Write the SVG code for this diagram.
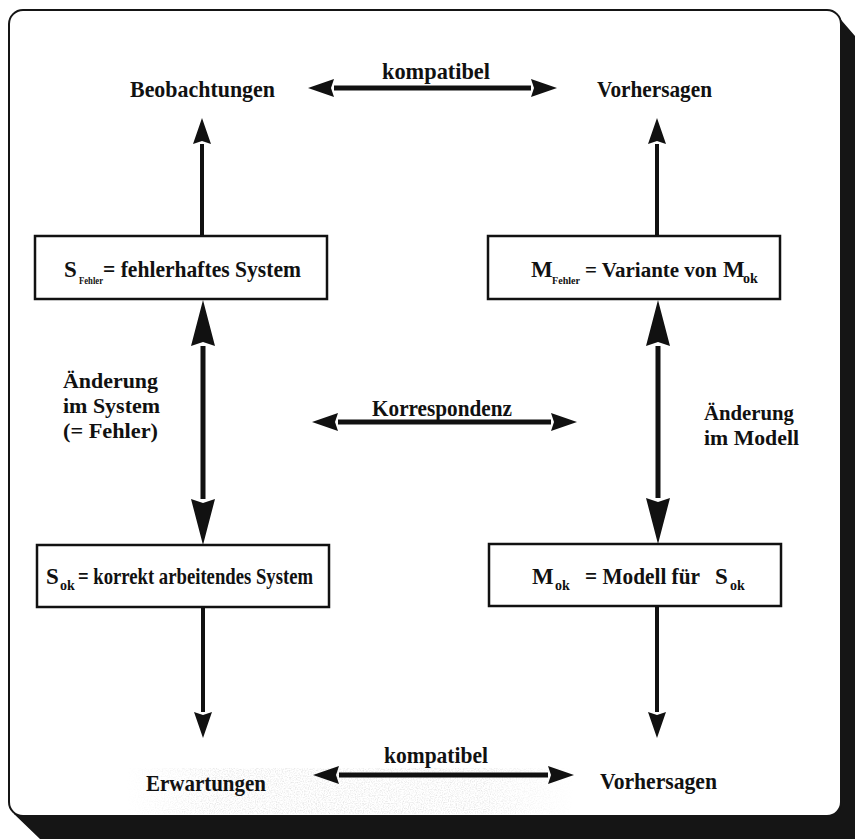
<svg xmlns="http://www.w3.org/2000/svg" width="855" height="839" viewBox="0 0 855 839">
  <style>
    .lbl { font-family: "Liberation Serif", "Times New Roman", serif; font-weight: bold; font-size: 23px; fill: #111; }
    .side { font-family: "Liberation Serif", "Times New Roman", serif; font-weight: bold; font-size: 21px; fill: #111; }
    .sub { font-family: "Liberation Serif", "Times New Roman", serif; font-weight: bold; font-size: 10px; fill: #111; }
    .subok { font-family: "Liberation Serif", "Times New Roman", serif; font-weight: bold; font-size: 14px; fill: #111; }
    .box { fill: #fff; stroke: #111; stroke-width: 2.5; }
    .arr { stroke: #111; stroke-width: 5; fill: none; marker-start: url(#head); marker-end: url(#head); }
    .one { stroke: #111; stroke-width: 4; fill: none; marker-end: url(#head); }
    .big { stroke: #111; stroke-width: 5; fill: none; marker-start: url(#bighead); marker-end: url(#bighead); }
  </style>
  <defs>
    <marker id="head" markerUnits="userSpaceOnUse" markerWidth="26" markerHeight="18" refX="0" refY="9" orient="auto-start-reverse" overflow="visible">
      <path d="M0,0 L26,9 L0,18 L3,9 Z" fill="#111"/>
    </marker>
    <marker id="bighead" markerUnits="userSpaceOnUse" markerWidth="46" markerHeight="24" refX="0" refY="12" orient="auto-start-reverse" overflow="visible">
      <path d="M0,0 L46,12 L0,24 L4,12 Z" fill="#111"/>
    </marker>
    <!-- faint paper speckle near the lower edge -->
    <filter id="grain" x="0" y="0" width="100%" height="100%">
      <feTurbulence type="fractalNoise" baseFrequency="0.85" numOctaves="2" seed="7" result="n"/>
      <feColorMatrix in="n" type="matrix" values="0 0 0 0 0.6  0 0 0 0 0.6  0 0 0 0 0.6  0 0 0 -2.4 1.4"/>
      <feComposite in2="SourceGraphic" operator="in"/>
    </filter>
    <linearGradient id="fade" x1="0" y1="0" x2="1" y2="0">
      <stop offset="0" stop-color="#fff" stop-opacity="0"/>
      <stop offset="0.2" stop-color="#fff" stop-opacity="1"/>
      <stop offset="0.8" stop-color="#fff" stop-opacity="1"/>
      <stop offset="1" stop-color="#fff" stop-opacity="0"/>
    </linearGradient>
  </defs>

  <!-- page with drop shadow -->
  <polygon points="836,14 855,36 855,839 40,839 14,814 836,814" fill="#151515"/>
  <rect x="9" y="10" width="832" height="806" rx="14" fill="#fff" stroke="#151515" stroke-width="2"/>
  <rect x="125" y="768" width="450" height="46" fill="url(#fade)" filter="url(#grain)" opacity="0.45"/>

  <!-- connectors -->
  <g id="connectors">
    <line class="arr" x1="334" y1="88" x2="531" y2="88"/>
    <line class="one" x1="202" y1="236" x2="202" y2="144"/>
    <line class="one" x1="657" y1="236" x2="657" y2="144"/>
    <line class="big" x1="203" y1="346" x2="203" y2="499"/>
    <line class="big" x1="658" y1="346" x2="658" y2="498"/>
    <line class="arr" x1="338" y1="422" x2="551" y2="422"/>
    <line class="one" x1="203" y1="607" x2="203" y2="712"/>
    <line class="one" x1="657" y1="606" x2="657" y2="712"/>
    <line class="arr" x1="339" y1="775" x2="548" y2="775"/>
    <text class="lbl" x="382" y="79" textLength="108" lengthAdjust="spacingAndGlyphs">kompatibel</text>
    <text class="lbl" x="372" y="416" textLength="140" lengthAdjust="spacingAndGlyphs">Korrespondenz</text>
    <text class="lbl" x="384" y="763" textLength="104" lengthAdjust="spacingAndGlyphs">kompatibel</text>
    <text class="side" x="63" y="388" textLength="95" lengthAdjust="spacingAndGlyphs">Änderung</text>
    <text class="side" x="63" y="413" textLength="97" lengthAdjust="spacingAndGlyphs">im System</text>
    <text class="side" x="63" y="438" textLength="95" lengthAdjust="spacingAndGlyphs">(= Fehler)</text>
    <text class="side" x="704" y="420" textLength="90" lengthAdjust="spacingAndGlyphs">Änderung</text>
    <text class="side" x="704" y="445" textLength="95" lengthAdjust="spacingAndGlyphs">im Modell</text>
  </g>

  <g id="beobachtungen">
    <text class="lbl" x="130" y="97" textLength="145" lengthAdjust="spacingAndGlyphs">Beobachtungen</text>
  </g>
  <g id="vorhersagen-oben">
    <text class="lbl" x="597" y="97" textLength="115" lengthAdjust="spacingAndGlyphs">Vorhersagen</text>
  </g>

  <g id="s-fehler">
    <rect class="box" x="35" y="236" width="292" height="63"/>
    <text class="lbl" x="64" y="277">S</text>
    <text class="sub" x="79" y="284" textLength="24" lengthAdjust="spacingAndGlyphs">Fehler</text>
    <text class="lbl" x="103" y="277" textLength="198" lengthAdjust="spacingAndGlyphs">= fehlerhaftes System</text>
  </g>
  <g id="m-fehler">
    <rect class="box" x="488" y="236" width="292" height="63"/>
    <text class="lbl" x="531" y="277">M</text>
    <text class="sub" x="552" y="284" textLength="28" lengthAdjust="spacingAndGlyphs">Fehler</text>
    <text class="lbl" x="585" y="277" style="font-size:20px" textLength="132" lengthAdjust="spacingAndGlyphs">= Variante von</text>
    <text class="lbl" x="723" y="277">M</text>
    <text class="subok" x="743" y="283">ok</text>
  </g>
  <g id="s-ok">
    <rect class="box" x="37" y="545" width="292" height="62"/>
    <text class="lbl" x="46" y="584">S</text>
    <text class="subok" x="60" y="590">ok</text>
    <text class="lbl" x="78" y="584" textLength="235" lengthAdjust="spacingAndGlyphs">= korrekt arbeitendes System</text>
  </g>
  <g id="m-ok">
    <rect class="box" x="489" y="544" width="292" height="62"/>
    <text class="lbl" x="532" y="584">M</text>
    <text class="subok" x="555" y="590">ok</text>
    <text class="lbl" x="585" y="584" textLength="115" lengthAdjust="spacingAndGlyphs">= Modell für</text>
    <text class="lbl" x="715" y="584">S</text>
    <text class="subok" x="730" y="590">ok</text>
  </g>

  <g id="erwartungen">
    <text class="lbl" x="146" y="791" textLength="120" lengthAdjust="spacingAndGlyphs">Erwartungen</text>
  </g>
  <g id="vorhersagen-unten">
    <text class="lbl" x="600" y="789" textLength="117" lengthAdjust="spacingAndGlyphs">Vorhersagen</text>
  </g>
</svg>
